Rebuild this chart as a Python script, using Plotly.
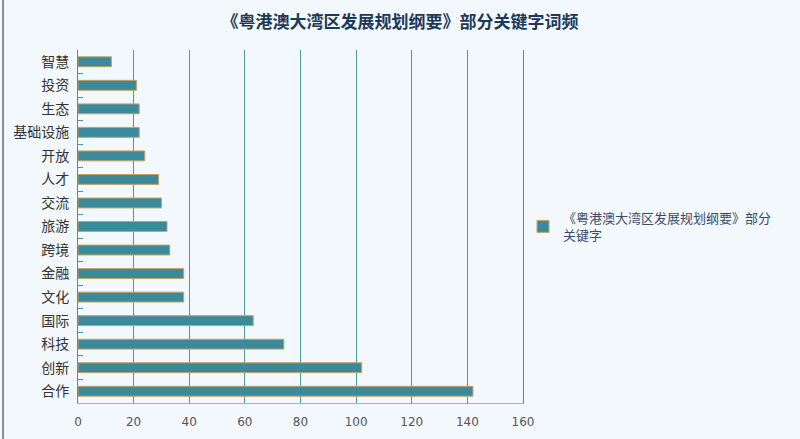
import plotly.graph_objects as go

# keyword frequencies, bottom to top as drawn
keywords = ['合作', '创新', '科技', '国际', '文化', '金融', '跨境', '旅游',
            '交流', '人才', '开放', '基础设施', '生态', '投资', '智慧']
counts = [142, 102, 74, 63, 38, 38, 33, 32, 30, 29, 24, 22, 22, 21, 12]
x_ticks = [0, 20, 40, 60, 80, 100, 120, 140, 160]

series_name = '《粤港澳大湾区发展规划纲要》部分<br>关键字'
cjk = 'Noto Sans CJK SC'

fig = go.Figure()
fig.add_trace(go.Bar(
    y=keywords, x=counts, orientation='h', name=series_name,
    marker=dict(color='#3a8a9c', line=dict(color='#c8a060', width=1)),
    showlegend=True,
))

fig.update_layout(
    width=800, height=439,
    margin=dict(l=78, r=277, t=50, b=36),
    paper_bgcolor='#f2f8fb', plot_bgcolor='#f2f8fb',
    title=dict(text='《粤港澳大湾区发展规划纲要》部分关键字词频',
               x=0.5, xanchor='center', y=0.95, yanchor='middle',
               font=dict(family=cjk, size=17, color='#1a3a5c', weight='bold')),
    bargap=0.58,
    legend=dict(x=1.0, xanchor='left', y=0.5, yanchor='middle',
                font=dict(family=cjk, size=13, color='#3a4a6a'),
                bgcolor='rgba(0,0,0,0)'),
    font=dict(family=cjk),
)
fig.update_xaxes(
    range=[0, 160], tickvals=x_ticks, automargin=False,
    showgrid=True, gridcolor='#4a9c9c', gridwidth=1,
    showline=True, linecolor='#7ec4c4', zeroline=False,
    ticklabelstandoff=8,
    tickfont=dict(family='DejaVu Sans', size=12, color='#555555'),
)
fig.update_yaxes(
    type='category', tickson='boundaries', ticks='inside', ticklen=5,
    tickcolor='#4a9a9a', automargin=False,
    showline=True, linecolor='#3a9a9a', linewidth=1, mirror=True,
    showgrid=False, ticklabelstandoff=5,
    tickfont=dict(family=cjk, size=14, color='#333333'),
)
fig.add_shape(type='line', xref='paper', yref='paper', x0=-0.1685, x1=-0.1685,
              y0=-0.2, y1=1.2, line=dict(color='#222222', width=1))

# page body margin would push the chart 8px right and down
fig.write_html('out.html', config={'displayModeBar': False},
               post_script="document.body.style.margin='0';")
